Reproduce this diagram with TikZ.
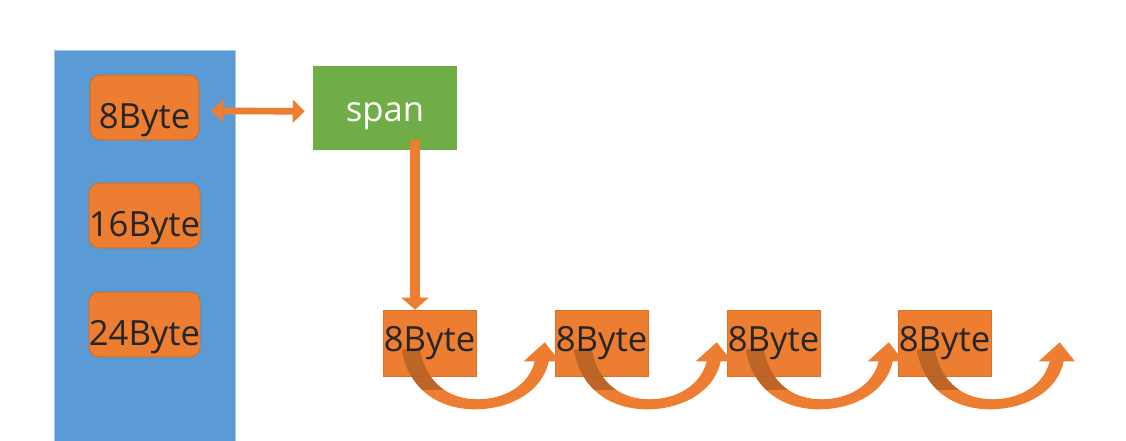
\documentclass[tikz,border=0pt]{standalone}
\usepackage{fontspec}
\setmainfont{Open Sans}
\usetikzlibrary{arrows.meta,calc}
\definecolor{Mem}{HTML}{5B9BD5}
\definecolor{Blk}{HTML}{ED7D31}
\definecolor{BlkEdge}{HTML}{C9651F}
\definecolor{Span}{HTML}{70AD47}
\tikzset{
memcol/.style={fill=Mem, draw=Mem!55!white, thin, minimum width=135.75pt, minimum height=294pt, inner sep=0pt},
classbox/.style={fill=Blk, draw=BlkEdge, thin, rounded corners=7.5pt, minimum width=81.75pt, minimum height=48.75pt, inner sep=0pt, text=black!85, text height=37pt, text depth=6pt},
spanbox/.style={fill=Span, minimum width=108pt, minimum height=63pt, inner sep=0pt, text=white, text height=26pt, text depth=6pt},
objbox/.style={fill=Blk, draw=BlkEdge!50!Blk, thin, minimum width=69.75pt, minimum height=49.5pt, inner sep=0pt, text=black!85},
linkarrow/.style={draw=Blk, line width=5pt, {Triangle[width=17pt,length=9pt]}-{Triangle[width=17pt,length=9pt]}},
pointarrow/.style={draw=Blk, line width=7pt, -{Triangle[width=20pt,length=9pt]}}
}
% curved hop below an object box, local px units, origin = box south west
\newcommand\nextband{(19,-27) .. controls (26,16) and (60,34) .. (95,33)
  .. controls (130,32) and (160,14) .. (166,-15) -- (177,-15) -- (162,-34)
  -- (141,-15) -- (152,-15) .. controls (146,9) and (122,23) .. (95,23)
  .. controls (68,23) and (44,9) .. (37,-27) -- cycle}

\begin{document}
\begin{tikzpicture}[font=\fontsize{26}{30}\selectfont, x=0.75pt, y=-0.75pt]
  \useasboundingbox (0,0) rectangle (1126,440);
  \node[memcol] (mem) at (144.5,246) {};
  \node[classbox] (c8) at (144.5,107.5) {8Byte};
  \node[classbox] (c16) at (144.5,215.5) {16Byte};
  \node[classbox] (c24) at (144.5,324.5) {24Byte};
  \node[spanbox] (span) at (385,108) {span};
  \node[objbox] (b1) at (429.5,343) {8Byte};
  \node[objbox] (b2) at (601.5,343) {8Byte};
  \node[objbox] (b3) at (773.5,343) {8Byte};
  \node[objbox] (b4) at (944.5,343) {8Byte};
  \draw[linkarrow, shorten <=9pt, shorten >=6pt] ([yshift=-2.5pt]c8.east) -- ([yshift=-2.5pt]span.west);
  \draw[pointarrow] ($(span.south)+(30,-10)$) -- ($(b1.north)+(-14.5,0)$);
  \foreach \b in {b1,b2,b3,b4} {
    \begin{scope}[shift={(\b.south west)}]
      \begin{scope}
        \clip (-10,0) rectangle (200,50) (93,-60) rectangle (200,0);
        \fill[Blk] \nextband;
      \end{scope}
      \begin{scope}
        \clip (-10,-60) rectangle (72,13);
        \fill[black, opacity=.2] \nextband;
      \end{scope}
    \end{scope}
  }
\end{tikzpicture}
\end{document}
